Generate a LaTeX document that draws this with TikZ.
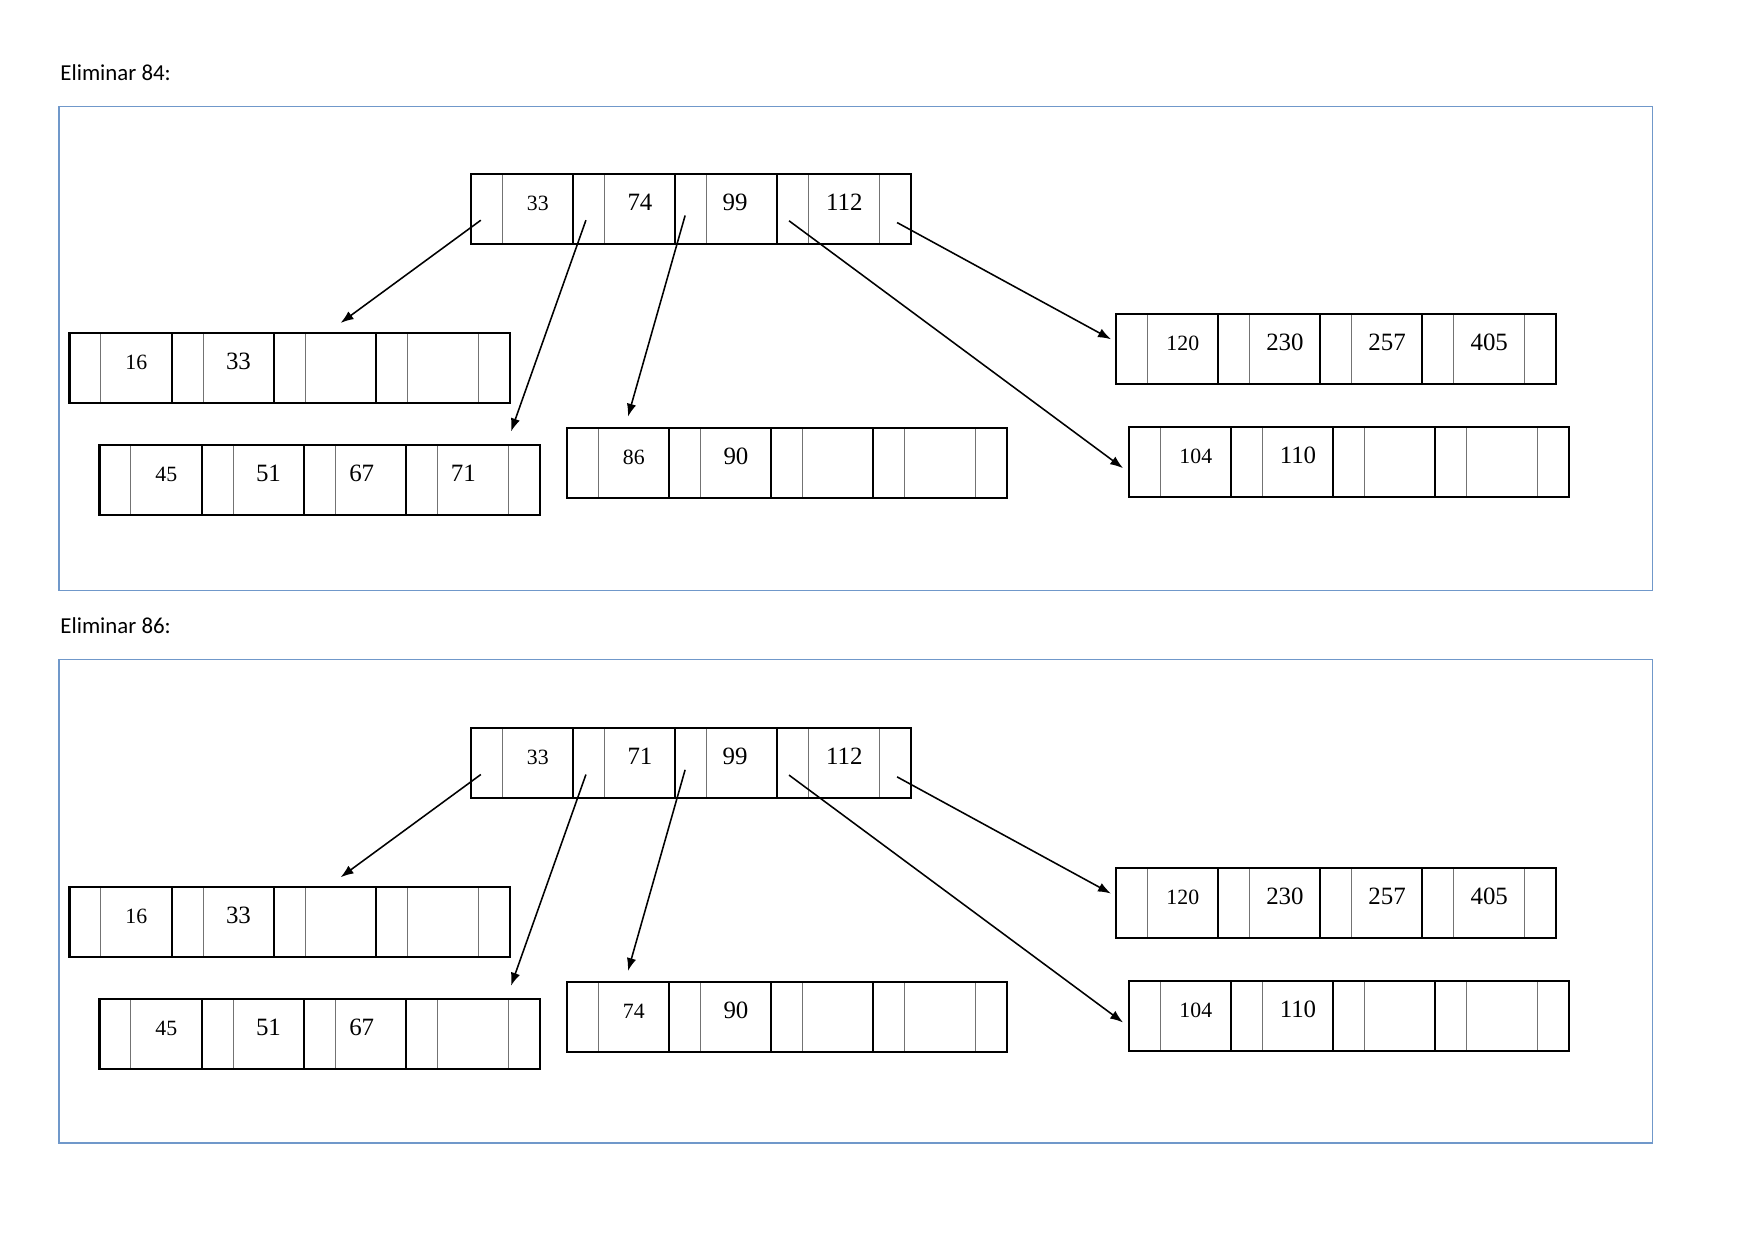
\documentclass[tikz,border=0pt]{standalone}
\usepackage{fontspec}
\setmainfont{Liberation Serif}
\newfontfamily\titlefont{Carlito}
\usetikzlibrary{arrows.meta}

\definecolor{frameblue}{RGB}{112,152,202}
\definecolor{cellline}{gray}{0.45}

\tikzset{
	ptr/.style={draw=cellline,line width=0.5pt,rectangle,inner sep=0pt,outer sep=0cm,minimum width=0.533cm,minimum height=1.185cm},
	key/.style={ptr,minimum width=1.197cm,text height=9pt,text depth=7.6pt,font=\fontsize{12}{14}\selectfont},
	firstkey/.style={key,font=\fontsize{10.5}{12}\selectfont},
	box/.style={draw=black,line width=1pt},
	link/.style={-{Latex[length=2.2mm,width=1.6mm]},line width=0.75pt},
	frame/.style={draw=frameblue,line width=0.7pt},
	title/.style={font=\titlefont\fontsize{11}{13}\selectfont,inner sep=0pt,anchor=base west}
}

% one B-tree page: name, north west corner, four keys
\newcommand{\bnode}[6]{%
	\node[ptr,anchor=north west] (#1-p0) at (#2) {};
	\node[firstkey] (#1-k1) at (#1-p0.east) [right] {#3};
	\node[ptr] (#1-p1) at (#1-k1.east) [right] {};
	\node[key] (#1-k2) at (#1-p1.east) [right] {#4};
	\node[ptr] (#1-p2) at (#1-k2.east) [right] {};
	\node[key] (#1-k3) at (#1-p2.east) [right] {#5};
	\node[ptr] (#1-p3) at (#1-k3.east) [right] {};
	\node[key] (#1-k4) at (#1-p3.east) [right] {#6};
	\node[ptr] (#1-p4) at (#1-k4.east) [right] {};
	\draw[box] (#1-p0.north west) rectangle (#1-p4.south east);
	\foreach \i in {1,2,3} \draw[box] (#1-p\i.north west) -- (#1-p\i.south west);
}

\begin{document}
\begin{tikzpicture}[x=0.016933cm,y=-0.016933cm]

	\useasboundingbox (0,0) rectangle (1754,1241);

	\foreach \pn/\fy/\dy/\rk/\bk/\ck/\del in {1/0/0/74/71\kern0.32cm/86/84, 2/552.6/554.3/71/{}/74/86}{
	% heading and frame
	\node[title] (title\pn) at (60,80.7+\fy) {Eliminar \del:};
	\draw[frame] (59,106.7+\fy) rectangle (1652.7,590.3+\fy);

	\begin{scope}[shift={(0,\dy)}]
		\bnode{root\pn}{471,174}{33}{\rk}{99\kern0.24cm}{112}
		\bnode{a\pn}{69.5,333}{16}{33}{}{}
		\bnode{b\pn}{99.5,445}{45}{51}{67\kern0.3cm}{\bk}
		\bnode{c\pn}{567,428}{\ck}{90}{}{}
		\bnode{d\pn}{1116,314}{120}{230}{257}{405}
		\bnode{e\pn}{1129,426.7}{104}{110}{}{}

		\draw[link] ([xshift=-0.1cm,yshift=-0.19cm]root\pn-p0.center) -- ([yshift=0.17cm]a\pn-k3.north);
		\draw[link] ([xshift=-0.05cm,yshift=-0.19cm]root\pn-p1.center) -- ([xshift=0.05cm,yshift=0.23cm]b\pn-p4.north west);
		\draw[link] ([xshift=-0.1cm,yshift=-0.11cm]root\pn-p2.center) -- ([xshift=-0.1cm,yshift=0.19cm]c\pn-k1.north);
		\draw[link] ([xshift=-0.07cm,yshift=-0.2cm]root\pn-p3.center) -- ([xshift=-0.1cm,yshift=-0.11cm]e\pn-p0.west);
		\draw[link] ([xshift=0.03cm,yshift=-0.23cm]root\pn-p4.center) -- ([xshift=-0.085cm,yshift=0.165cm]d\pn-p0.west);
	\end{scope}
	}

\end{tikzpicture}
\end{document}
